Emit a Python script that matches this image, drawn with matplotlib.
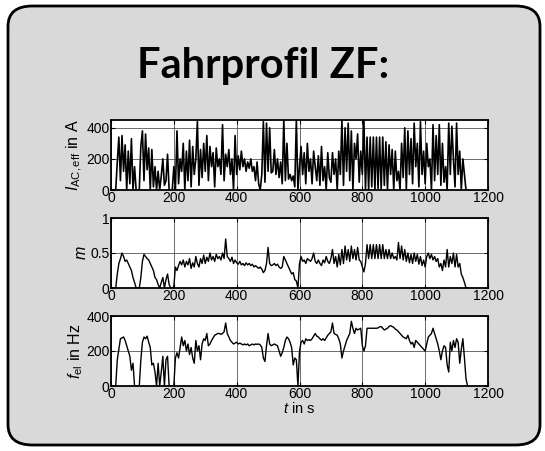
import numpy as np
import matplotlib.pyplot as plt
from matplotlib.patches import FancyBboxPatch

plt.rcParams['font.family'] = 'Liberation Sans'
plt.rcParams['mathtext.fontset'] = 'custom'
plt.rcParams['mathtext.rm'] = 'Liberation Sans'
plt.rcParams['mathtext.it'] = 'Liberation Sans:italic'

# time grid, 5 s steps from 0 to 1135 s
t = np.arange(0, 1140, 5)

# AC current (effective) in A
i_ac = [0, 0, 0, 0, 180, 340, 60, 350, 120, 290, 0, 250, 40, 330, 0, 150, 0, 0, 0, 280,
        380, 60, 360, 130, 270, 0, 260, 20, 150, 0, 120, 0, 90, 200, 30, 60, 230, 0, 0, 0,
        150, 0, 380, 40, 200, 120, 300, 0, 250, 60, 320, 20, 280, 100, 200, 440, 30, 260, 80, 300,
        120, 350, 60, 280, 150, 240, 20, 270, 150, 200, 100, 420, 60, 230, 150, 260, 100, 200, 0, 350,
        100, 220, 130, 250, 150, 200, 120, 180, 140, 200, 120, 150, 60, 180, 40, 0, 100, 440, 50, 430,
        120, 400, 110, 120, 260, 100, 200, 80, 180, 40, 450, 60, 300, 70, 100, 60, 90, 20, 450, 0,
        150, 280, 100, 240, 40, 300, 120, 200, 40, 250, 150, 60, 220, 30, 280, 60, 150, 0, 240, 80,
        50, 240, 100, 200, 0, 250, 100, 450, 30, 400, 120, 430, 60, 380, 0, 300, 200, 360, 50, 250,
        100, 450, 0, 340, 0, 340, 20, 340, 0, 340, 10, 340, 0, 340, 30, 310, 0, 290, 100, 260,
        0, 250, 60, 120, 0, 300, 80, 400, 0, 380, 100, 330, 40, 430, 150, 300, 20, 440, 100, 250,
        40, 300, 150, 200, 0, 420, 60, 350, 100, 420, 30, 300, 50, 150, 0, 430, 100, 410, 200, 20,
        430, 100, 250, 0, 200, 100, 0, 0]

# modulation index
m = [0, 0, 0, 0, 0.2, 0.35, 0.42, 0.5, 0.45, 0.38, 0.4, 0.35, 0.3, 0.25, 0.15, 0.08, 0, 0, 0, 0.15,
     0.38, 0.48, 0.45, 0.42, 0.4, 0.35, 0.3, 0.25, 0.15, 0.12, 0.05, 0, 0.08, 0.15, 0, 0.12, 0.2, 0.05, 0, 0,
     0.02, 0.3, 0.25, 0.32, 0.38, 0.33, 0.4, 0.3, 0.38, 0.33, 0.42, 0.28, 0.36, 0.3, 0.45, 0.35, 0.3, 0.42, 0.35, 0.47,
     0.35, 0.44, 0.38, 0.5, 0.4, 0.45, 0.38, 0.48, 0.42, 0.45, 0.4, 0.5, 0.42, 0.7, 0.45, 0.42, 0.38, 0.44, 0.35, 0.4,
     0.36, 0.34, 0.38, 0.33, 0.35, 0.32, 0.36, 0.33, 0.35, 0.32, 0.34, 0.3, 0.32, 0.3, 0.28, 0.3, 0.27, 0.22, 0.25, 0.35,
     0.58, 0.35, 0.32, 0.33, 0.35, 0.32, 0.34, 0.3, 0.28, 0.3, 0.45, 0.4, 0.35, 0.3, 0.25, 0.2, 0.22, 0.12, 0.1, 0,
     0.35, 0.45, 0.38, 0.4, 0.35, 0.42, 0.4, 0.38, 0.42, 0.5, 0.38, 0.35, 0.4, 0.35, 0.32, 0.4, 0.36, 0.45, 0.38, 0.35,
     0.42, 0.55, 0.35, 0.45, 0.3, 0.48, 0.33, 0.55, 0.35, 0.6, 0.4, 0.55, 0.38, 0.6, 0.42, 0.55, 0.4, 0.58, 0.4, 0.38,
     0.3, 0.23, 0.35, 0.62, 0.42, 0.62, 0.42, 0.62, 0.42, 0.62, 0.42, 0.62, 0.42, 0.62, 0.42, 0.55, 0.42, 0.55, 0.42, 0.5,
     0.42, 0.45, 0.4, 0.65, 0.42, 0.6, 0.4, 0.55, 0.38, 0.5, 0.36, 0.48, 0.35, 0.5, 0.38, 0.48, 0.34, 0.45, 0.32, 0.4,
     0.3, 0.45, 0.5, 0.42, 0.48, 0.4, 0.45, 0.38, 0.42, 0.3, 0.35, 0.25, 0.4, 0.3, 0.55, 0.3, 0.45, 0.35, 0.5, 0.3,
     0.48, 0.3, 0.35, 0.2, 0.15, 0.08, 0, 0]

# electrical frequency in Hz
f_el = [0, 0, 0, 0, 150, 210, 270, 275, 280, 260, 230, 200, 170, 90, 130, 0, 0, 0, 0, 150,
        250, 280, 270, 285, 250, 220, 120, 130, 80, 0, 130, 0, 80, 170, 0, 150, 170, 0, 0, 0,
        0, 160, 190, 160, 220, 280, 230, 260, 200, 240, 180, 220, 160, 130, 260, 200, 230, 150, 240, 270,
        260, 300, 230, 240, 260, 275, 290, 295, 300, 300, 295, 300, 310, 360, 300, 280, 260, 250, 240, 245,
        250, 240, 245, 240, 235, 240, 235, 240, 230, 235, 240, 235, 240, 238, 240, 235, 220, 160, 140, 230,
        300, 240, 230, 235, 240, 235, 230, 200, 170, 190, 220, 260, 280, 270, 250, 220, 120, 160, 150, 0,
        200, 250, 260, 240, 270, 260, 265, 260, 270, 285, 300, 285, 280, 270, 262, 270, 260, 275, 290, 300,
        310, 360, 300, 295, 290, 270, 240, 160, 200, 230, 260, 280, 300, 370, 330, 300, 330, 320, 325, 330,
        230, 200, 230, 330, 330, 330, 330, 330, 330, 330, 332, 338, 340, 330, 320, 325, 330, 340, 345, 340,
        335, 325, 320, 310, 300, 290, 280, 275, 270, 290, 260, 240, 250, 220, 260, 250, 240, 230, 220, 210,
        200, 240, 280, 290, 300, 330, 300, 270, 240, 200, 150, 200, 230, 220, 120, 80, 250, 200, 260, 220,
        270, 250, 130, 210, 270, 160, 40, 0]

x_ticks = [0, 200, 400, 600, 800, 1000, 1200]

fig = plt.figure(figsize=(5.45, 4.51), dpi=100)
fig.patch.set_facecolor('white')

# rounded grey box behind everything
box = FancyBboxPatch((8 / 545, 6 / 451), 532 / 545, 439 / 451,
                     boxstyle='round,pad=0,rounding_size=0.045',
                     transform=fig.transFigure, facecolor='#d9d9d9',
                     edgecolor='black', linewidth=2, zorder=-10)
fig.patches.append(box)

fig.text(0.483, 1 - 78 / 451, 'Fahrprofil ZF:', ha='center', va='baseline',
         fontsize=30, fontweight='bold', family='Lato')

left, width = 111 / 545, 377 / 545
tops = [120, 218, 316]
h = 70 / 451
series = [i_ac, m, f_el]
lws = [1.2, 1.0, 1.0]
ylims = [(0, 450), (0, 1), (0, 400)]
yticks = [[0, 200, 400], [0, 0.5, 1], [0, 200, 400]]
yticklabels = [['0', '200', '400'], ['0', '0.5', '1'], ['0', '200', '400']]
ylabels = [r'$I_\mathrm{AC,eff}$ in A', r'$m$', r'$f_\mathrm{el}$ in Hz']

for k in range(3):
    ax = fig.add_axes([left, 1 - (tops[k] + 70) / 451, width, h])
    ax.plot(t, series[k], color='black', linewidth=lws[k])
    ax.set_xlim(0, 1200)
    ax.set_ylim(*ylims[k])
    ax.set_xticks(x_ticks)
    ax.set_yticks(yticks[k])
    ax.set_yticklabels(yticklabels[k])
    ax.grid(True, color='#555555', linewidth=0.6)
    ax.tick_params(direction='in', length=3, top=True, right=True,
                   labelsize=10, pad=1)
    for s in ax.spines.values():
        s.set_linewidth(1.3)
    ax.set_ylabel(ylabels[k], fontsize=11.5, labelpad=1)
    if k == 2:
        ax.set_xlabel(r'$t$ in s', fontsize=10.5, labelpad=0)

plt.savefig('out.png', dpi=100)
